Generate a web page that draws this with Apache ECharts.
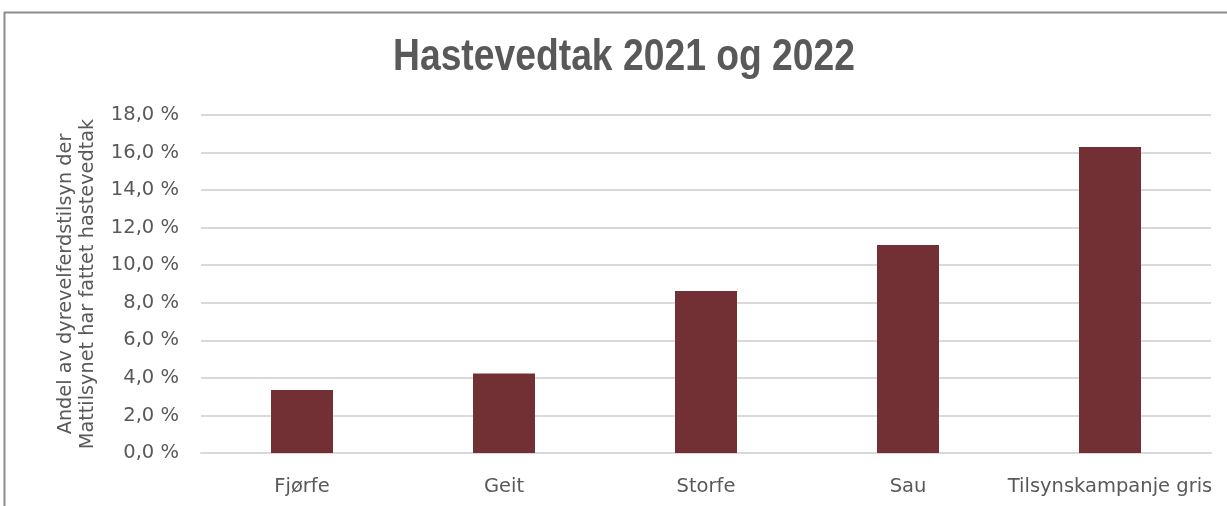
<!DOCTYPE html>
<html><head><meta charset="utf-8">
<script src="https://cdn.jsdelivr.net/npm/echarts@6/dist/echarts.min.js"></script>
<style>html,body{margin:0;padding:0;background:#fff}#c{width:1227px;height:506px}</style>
</head><body><div id="c"></div>
<script>
const categories = ['Fjørfe', 'Geit', 'Storfe', 'Sau', 'Tilsynskampanje gris'];
const values = [3.35, 4.23, 8.63, 11.08, 16.3];
const yTicks = [0, 2, 4, 6, 8, 10, 12, 14, 16, 18];
const titleText = 'Hastevedtak 2021 og 2022';
const yName = 'Andel av dyrevelferdstilsyn der\nMattilsynet har fattet hastevedtak';

const titleFont = 'bold 44px "Liberation Sans"';
const mc = document.createElement('canvas').getContext('2d');
mc.font = titleFont;
const titleScale = 462 / mc.measureText(titleText).width;

const labelFont = 'DejaVu Sans';
const chart = echarts.init(document.getElementById('c'), null, {renderer: 'canvas'});
chart.setOption({
  animation: false,
  backgroundColor: '#fff',
  graphic: [
    {type: 'line', shape: {x1: 4, y1: 12.5, x2: 1227, y2: 12.5}, style: {stroke: '#8c8c8c', lineWidth: 2}},
    {type: 'line', shape: {x1: 4.5, y1: 12, x2: 4.5, y2: 506}, style: {stroke: '#8c8c8c', lineWidth: 2}},
    {type: 'text', x: 624, y: 58, scaleX: titleScale,
     style: {text: titleText, font: titleFont, fill: '#595959', textAlign: 'center', textVerticalAlign: 'middle'}}
  ],
  grid: {left: 201, right: 16, top: 115, bottom: 53, containLabel: false},
  xAxis: {
    type: 'category', data: categories,
    axisTick: {show: false},
    axisLine: {show: true, lineStyle: {color: '#d9d9d9', width: 2}},
    axisLabel: {color: '#595959', fontFamily: labelFont, fontSize: 19.5, margin: 24, interval: 0}
  },
  yAxis: {
    type: 'value', min: 0, max: 18, interval: 2,
    name: yName, nameLocation: 'middle', nameGap: 102, nameRotate: 90,
    nameTextStyle: {color: '#595959', fontFamily: labelFont, fontSize: 19.3, lineHeight: 22},
    axisLine: {show: false}, axisTick: {show: false},
    splitLine: {lineStyle: {color: '#d9d9d9', width: 2}},
    axisLabel: {
      color: '#595959', fontFamily: labelFont, fontSize: 19.5, margin: 22,
      formatter: v => yTicks.includes(v) ? v.toFixed(1).replace('.', ',') + ' %' : ''
    }
  },
  series: [{
    type: 'bar', data: values, barWidth: 62,
    itemStyle: {color: '#722F34'}
  }]
});
</script></body></html>
